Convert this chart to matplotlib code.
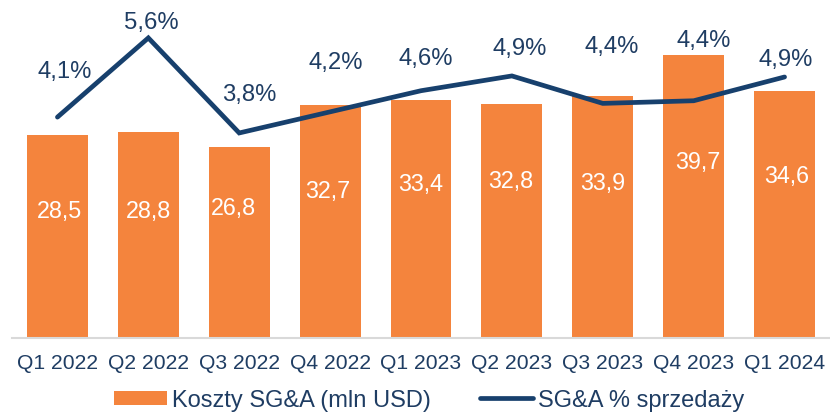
import matplotlib
matplotlib.use("Agg")
import matplotlib.pyplot as plt

# dane z wykresu
kwartaly = ["Q1 2022", "Q2 2022", "Q3 2022", "Q4 2022", "Q1 2023",
            "Q2 2023", "Q3 2023", "Q4 2023", "Q1 2024"]
koszty_sga = [28.5, 28.8, 26.8, 32.7, 33.4, 32.8, 33.9, 39.7, 34.6]
sga_proc = [4.1, 5.6, 3.8, 4.2, 4.6, 4.88, 4.36, 4.41, 4.86]

# przesuniecia etykiet (piksele)
etyk_proc_dx = [7, 3, 10, 6, 5, 8, 9, 10, 1]
etyk_proc_dy = [46, 16, 39, 50, 33, 28, 57, 61, 18]
etyk_bar_y = [17.8, 17.9, 18.3, 20.6, 21.6, 22.0, 21.8, 24.7, 22.7]
etyk_bar_dx = [0.02, 0.0, -0.06, -0.03, 0.0, -0.01, 0.0, 0.04, 0.02]

POMARANCZ = "#F4843D"
GRANAT = "#17406D"
TEKST = "#1F3D63"

plt.rcParams['font.family'] = ['Liberation Sans', 'DejaVu Sans']

fig = plt.figure(figsize=(8.3, 4.14), dpi=100)
ax = fig.add_axes([12 / 830, 75 / 414, 818 / 830, 339 / 414])
ax2 = ax.twinx()

x = list(range(len(kwartaly)))
slupki = ax.bar(x, koszty_sga, width=0.67, color=POMARANCZ,
                label="Koszty SG&A (mln USD)", zorder=2)
for i, v in enumerate(koszty_sga):
    ax.text(i + etyk_bar_dx[i], etyk_bar_y[i], f"{v:.1f}".replace(".", ","),
            ha="center", va="center", color="white", fontsize=16.8)

linia, = ax2.plot(x, sga_proc, color=GRANAT, lw=3.4, solid_capstyle="round",
                  solid_joinstyle="miter", label="SG&A % sprzedaży", zorder=3)
for i, v in enumerate(sga_proc):
    ax2.annotate(f"{v:.1f}%".replace(".", ","), (i, v),
                 xytext=(etyk_proc_dx[i], etyk_proc_dy[i]),
                 textcoords="offset pixels", ha="center", va="center",
                 color=TEKST, fontsize=17.2)

ax.set_xlim(-0.5, len(kwartaly) - 0.5)
ax.set_ylim(0, 47.48)
ax2.set_ylim(-0.083, 6.337)

ax.set_xticks(x)
ax.set_xticklabels(kwartaly, fontsize=15.2, color=TEKST)
ax.tick_params(axis="x", length=0, pad=11)
ax.set_yticks([])
ax2.set_yticks([])

for a in (ax, ax2):
    for s in ("top", "left", "right"):
        a.spines[s].set_visible(False)
ax2.spines["bottom"].set_visible(False)
ax.spines["bottom"].set_color("#D9D9D9")
ax.spines["bottom"].set_linewidth(1.5)

ax.set_zorder(ax2.get_zorder() - 1)
ax.patch.set_visible(False)

leg = fig.legend(handles=[slupki, linia], loc="center", ncol=2,
                 bbox_to_anchor=(0.517, 0.031), frameon=False, fontsize=17,
                 handlelength=2.25, handleheight=0.55, handletextpad=0.2,
                 columnspacing=2.07, borderaxespad=0, borderpad=0)
for t in leg.get_texts():
    t.set_color(TEKST)

fig.savefig("out.png", dpi=100)
